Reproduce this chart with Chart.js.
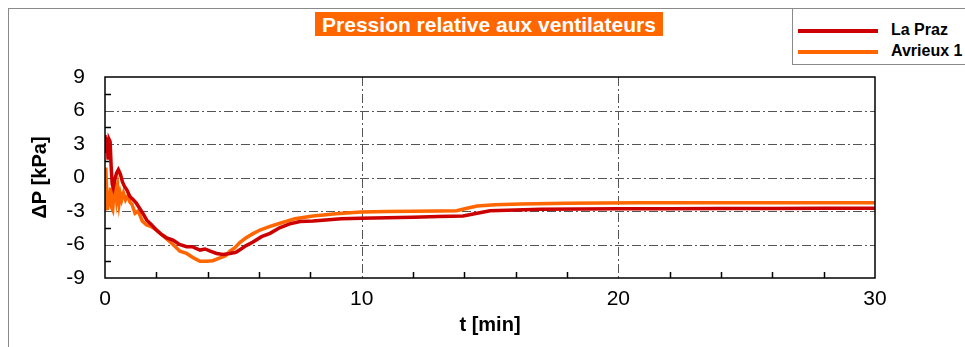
<!DOCTYPE html>
<html>
<head>
<meta charset="utf-8">
<script src="https://cdn.jsdelivr.net/npm/chart.js@4/dist/chart.umd.min.js"></script>
<style>
  body { margin: 0; background: #fff; }
  .wrap { position: relative; width: 965px; height: 347px; overflow: hidden; font-family: 'Liberation Sans', Arial, sans-serif; }
  .frame { position: absolute; left: 8px; top: 8px; width: 980px; height: 360px; border-left: 1px solid #8a8a8a; border-top: 1px solid #8a8a8a; }
  .title { position: absolute; left: 315px; top: 12px; width: 348px; height: 24px; line-height: 25px; background: #ff6600; color: #fff; font-weight: bold; font-size: 21px; text-align: center; white-space: nowrap; }
  .legend { position: absolute; left: 792px; top: 8px; width: 200px; height: 55px; border: 1px solid #8a8a8a; background: #fff; }
  .legend div { position: absolute; left: 0; height: 20px; line-height: 20px; font-weight: bold; font-size: 16px; color: #000; }
  .legend span { display: inline-block; width: 80px; height: 4px; margin: 0 13px 0 5px; vertical-align: middle; }
  canvas { position: absolute; left: 0; top: 0; }
</style>
</head>
<body>
<div class="wrap">
  <div class="frame"></div>
  <canvas id="pression" width="965" height="347"></canvas>
  <div class="title">Pression relative aux ventilateurs</div>
  <div class="legend">
    <div style="top: 11px"><span style="background:#cc0000"></span>La Praz</div>
    <div style="top: 32px"><span style="background:#ff6600"></span>Avrieux 1</div>
  </div>
</div>
<script>
// temps [min] et pression [kPa] de chaque ventilateur
const tPraz = [0, 0.04, 0.08, 0.12, 0.16, 0.2, 0.24, 0.28, 0.32, 0.38, 0.45, 0.52, 0.6, 0.68, 0.76, 0.85, 0.97, 1.1, 1.22, 1.36, 1.5, 1.62, 1.8, 2.0, 2.2, 2.4, 2.65, 2.9, 3.18, 3.4, 3.7, 3.9, 4.1, 4.35, 4.6, 4.87, 5.1, 5.3, 5.5, 5.75, 6.1, 6.43, 6.8, 7.2, 7.6, 8.1, 8.6, 9.2, 9.97, 11, 12, 13, 13.95, 14.5, 15, 16, 17, 18.5, 20, 22, 24, 26, 28, 30];
const pPraz = [3.8, 2.2, 3.6, 1.6, 3.4, 3.2, 1.0, -0.6, -0.9, -0.2, 0.4, 0.7, 0.3, -0.4, -0.8, -1.1, -1.7, -2.0, -2.3, -2.8, -3.3, -3.8, -4.2, -4.7, -5.1, -5.4, -5.6, -6.0, -6.2, -6.2, -6.5, -6.4, -6.6, -6.8, -6.9, -6.8, -6.7, -6.4, -6.1, -5.8, -5.3, -5.0, -4.5, -4.15, -3.95, -3.9, -3.8, -3.7, -3.65, -3.6, -3.55, -3.5, -3.45, -3.2, -2.97, -2.9, -2.85, -2.82, -2.8, -2.8, -2.78, -2.77, -2.76, -2.75];

const tAvrieux = [0, 0.03, 0.06, 0.1, 0.14, 0.18, 0.22, 0.26, 0.3, 0.35, 0.4, 0.45, 0.5, 0.55, 0.6, 0.65, 0.72, 0.8, 0.9, 0.97, 1.05, 1.17, 1.3, 1.45, 1.62, 1.8, 2.0, 2.3, 2.65, 2.92, 3.18, 3.45, 3.7, 3.95, 4.2, 4.48, 4.7, 4.87, 5.05, 5.26, 5.5, 5.75, 6.04, 6.4, 6.82, 7.4, 8.1, 9.0, 9.97, 11, 12, 13, 13.7, 14.1, 14.5, 15.2, 16.2, 18, 20.8, 24, 27, 30];
const pAvrieux = [-2.8, 0.9, -0.8, -2.9, -1.2, -2.6, -0.9, -2.7, -2.9, -1.4, -0.7, -1.9, -1.0, -2.3, -1.5, -2.0, -1.4, -2.0, -1.6, -2.2, -2.4, -3.2, -3.0, -3.9, -4.25, -4.4, -4.7, -5.3, -6.0, -6.6, -6.8, -7.2, -7.5, -7.5, -7.45, -7.2, -7.0, -6.6, -6.3, -5.8, -5.4, -5.05, -4.7, -4.4, -4.1, -3.7, -3.45, -3.25, -3.1, -3.05, -3.02, -3.0, -2.97, -2.75, -2.55, -2.45, -2.37, -2.3, -2.27, -2.27, -2.27, -2.27];

// axes
const yTicks = [-9, -6, -3, 0, 3, 6, 9];
const xTicks = [0, 10, 20, 30];
const yGrid = [-6, -3, 0, 3, 6];
const xGrid = [10, 20];
const yMinor = [-7.5, -4.5, -1.5, 1.5, 4.5, 7.5];
const xMinor = [2, 4, 6, 8, 12, 14, 16, 18, 22, 24, 26, 28];

const font = 'Liberation Sans, Arial, sans-serif';

const toPoints = (t, p) => t.map((v, i) => ({x: v, y: p[i]}));

// grille trait-point, graduations internes et cadre du tracé
const frame = {
    id: 'frame',
    beforeDatasetsDraw(chart) {
        const {ctx, chartArea: a, scales: {x, y}} = chart;
        ctx.save();
        ctx.strokeStyle = '#555';
        ctx.lineWidth = 1;
        ctx.setLineDash([9, 3, 2, 3]);
        yGrid.forEach(v => {
            const py = Math.round(y.getPixelForValue(v)) + 0.5;
            ctx.beginPath(); ctx.moveTo(a.left, py); ctx.lineTo(a.right, py); ctx.stroke();
        });
        xGrid.forEach(v => {
            const px = Math.round(x.getPixelForValue(v)) + 0.5;
            ctx.beginPath(); ctx.moveTo(px, a.top); ctx.lineTo(px, a.bottom); ctx.stroke();
        });
        ctx.setLineDash([]);
        ctx.strokeStyle = '#000';
        ctx.lineWidth = 1.5;
        xMinor.forEach(v => {
            const px = Math.round(x.getPixelForValue(v)) + 0.5;
            ctx.beginPath(); ctx.moveTo(px, a.bottom); ctx.lineTo(px, a.bottom - 6); ctx.stroke();
        });
        yMinor.forEach(v => {
            const py = Math.round(y.getPixelForValue(v)) + 0.5;
            ctx.beginPath(); ctx.moveTo(a.left, py); ctx.lineTo(a.left + 6, py); ctx.stroke();
        });
        ctx.restore();
    },
    afterDatasetsDraw(chart) {
        const {ctx, chartArea: a} = chart;
        ctx.save();
        ctx.strokeStyle = '#000';
        ctx.lineWidth = 1.5;
        ctx.strokeRect(a.left, a.top, a.right - a.left, a.bottom - a.top);
        ctx.restore();
    }
};

new Chart(document.getElementById('pression').getContext('2d'), {
    type: 'line',
    data: {
        datasets: [{
            label: 'La Praz',
            data: toPoints(tPraz, pPraz),
            borderColor: '#cc0000',
            borderWidth: 3.5,
        }, {
            label: 'Avrieux 1',
            data: toPoints(tAvrieux, pAvrieux),
            borderColor: '#ff6600',
            borderWidth: 3.5,
        }]
    },
    options: {
        responsive: false,
        animation: false,
        elements: { point: { radius: 0 }, line: { tension: 0 } },
        layout: { padding: { left: 0, top: 77, right: 90, bottom: 0 } },
        plugins: { legend: { display: false }, tooltip: { enabled: false } },
        scales: {
            x: {
                type: 'linear',
                min: 0,
                max: 30,
                afterFit: s => { s.height = 69; },
                afterBuildTicks: s => { s.ticks = xTicks.map(v => ({value: v})); },
                grid: { display: false },
                border: { display: false },
                ticks: { color: '#000', padding: 1, maxRotation: 0, font: { family: font, size: 21 } },
                title: { display: true, text: 't [min]', color: '#000', padding: { top: 0, bottom: 10 }, font: { family: font, size: 20, weight: 'bold' } }
            },
            y: {
                min: -9,
                max: 9,
                afterFit: s => { s.width = 105; },
                afterBuildTicks: s => { s.ticks = yTicks.map(v => ({value: v})); },
                grid: { display: false },
                border: { display: false },
                ticks: { color: '#000', padding: 12, font: { family: font, size: 21 } },
                title: { display: true, text: 'ΔP [kPa]', color: '#000', padding: { top: 28, bottom: 0 }, font: { family: font, size: 20, weight: 'bold' } }
            }
        }
    },
    plugins: [frame]
});
</script>
</body>
</html>
